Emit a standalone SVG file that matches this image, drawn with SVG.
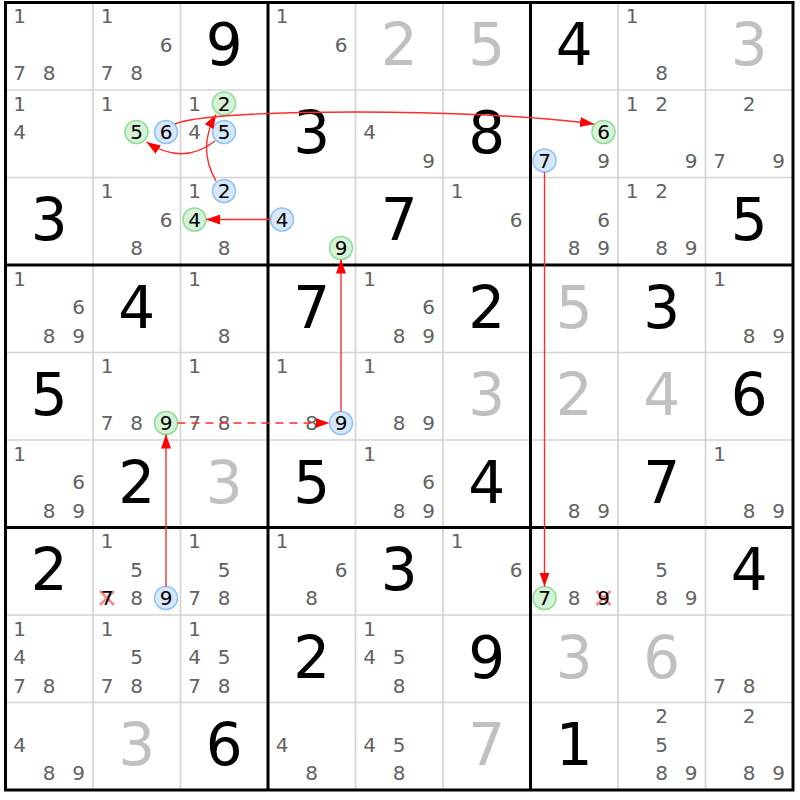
<svg xmlns="http://www.w3.org/2000/svg" width="800" height="800" viewBox="0 0 800 800">
<style>
text{font-family:"DejaVu Sans","Liberation Sans",sans-serif;text-anchor:middle}
.c{font-size:20px;fill:#626262}
.k{font-size:20px;fill:#000}
.g{font-size:58px;fill:#000}
.s{font-size:58px;fill:#c0c0c0}
.thin{stroke:#d4d4d4;stroke-width:1.7}
.thick{stroke:#000;stroke-width:3}
.cb{fill:#d6e7fa;stroke:#93c3f2;stroke-width:1.6}
.cg{fill:#d6f2d6;stroke:#8fdb99;stroke-width:1.6}
.x{stroke:#f28a8a;stroke-width:2.5}
.ar{fill:none;stroke:#ff2a2a;stroke-width:1.4;marker-end:url(#ah)}
</style>
<defs>
<marker id="ah" markerUnits="userSpaceOnUse" markerWidth="15" markerHeight="11" refX="14" refY="5" orient="auto"><path d="M0,0 L14,5 L0,10 z" fill="#f00"/></marker>
</defs>
<rect width="800" height="800" fill="#fff"/>
<g id="grid">
<path class="thin" d="M93,2.5V790M180.5,2.5V790M355.5,2.5V790M443,2.5V790M618,2.5V790M705.5,2.5V790M5.5,90H793M5.5,177.5H793M5.5,352.5H793M5.5,440H793M5.5,615H793M5.5,702.5H793"/>
<path class="thick" d="M268,2.5V790M530.5,2.5V790M5.5,265H793M5.5,527.5H793"/>
<rect x="5.5" y="2.5" width="787.5" height="787.5" fill="none" stroke="#000" stroke-width="3"/>
</g>
<!-- row 0 -->
<g id="r0c0" transform="translate(5.5,2.5)"><text class="c" x="14" y="20.5">1</text><text class="c" x="14" y="77.5">7</text><text class="c" x="43.5" y="77.5">8</text></g>
<g id="r0c1" transform="translate(93,2.5)"><text class="c" x="14" y="20.5">1</text><text class="c" x="73" y="49">6</text><text class="c" x="14" y="77.5">7</text><text class="c" x="43.5" y="77.5">8</text></g>
<g id="r0c2" transform="translate(180.5,2.5)"><text class="g" x="43.75" y="62.5">9</text></g>
<g id="r0c3" transform="translate(268,2.5)"><text class="c" x="14" y="20.5">1</text><text class="c" x="73" y="49">6</text></g>
<g id="r0c4" transform="translate(355.5,2.5)"><text class="s" x="43.75" y="62.5">2</text></g>
<g id="r0c5" transform="translate(443,2.5)"><text class="s" x="43.75" y="62.5">5</text></g>
<g id="r0c6" transform="translate(530.5,2.5)"><text class="g" x="43.75" y="62.5">4</text></g>
<g id="r0c7" transform="translate(618,2.5)"><text class="c" x="14" y="20.5">1</text><text class="c" x="43.5" y="77.5">8</text></g>
<g id="r0c8" transform="translate(705.5,2.5)"><text class="s" x="43.75" y="62.5">3</text></g>
<!-- row 1 -->
<g id="r1c0" transform="translate(5.5,90)"><text class="c" x="14" y="20.5">1</text><text class="c" x="14" y="49">4</text></g>
<g id="r1c1" transform="translate(93,90)"><text class="c" x="14" y="20.5">1</text><circle class="cg" cx="43.5" cy="42" r="11.5"/><text class="k" x="43.5" y="49">5</text><circle class="cb" cx="73" cy="42" r="11.5"/><text class="k" x="73" y="49">6</text></g>
<g id="r1c2" transform="translate(180.5,90)"><text class="c" x="14" y="20.5">1</text><circle class="cg" cx="43.5" cy="13.5" r="11.5"/><text class="k" x="43.5" y="20.5">2</text><text class="c" x="14" y="49">4</text><circle class="cb" cx="43.5" cy="42" r="11.5"/><text class="k" x="43.5" y="49">5</text></g>
<g id="r1c3" transform="translate(268,90)"><text class="g" x="43.75" y="62.5">3</text></g>
<g id="r1c4" transform="translate(355.5,90)"><text class="c" x="14" y="49">4</text><text class="c" x="73" y="77.5">9</text></g>
<g id="r1c5" transform="translate(443,90)"><text class="g" x="43.75" y="62.5">8</text></g>
<g id="r1c6" transform="translate(530.5,90)"><circle class="cg" cx="73" cy="42" r="11.5"/><text class="k" x="73" y="49">6</text><circle class="cb" cx="14" cy="70.5" r="11.5"/><text class="k" x="14" y="77.5">7</text><text class="c" x="73" y="77.5">9</text></g>
<g id="r1c7" transform="translate(618,90)"><text class="c" x="14" y="20.5">1</text><text class="c" x="43.5" y="20.5">2</text><text class="c" x="73" y="77.5">9</text></g>
<g id="r1c8" transform="translate(705.5,90)"><text class="c" x="43.5" y="20.5">2</text><text class="c" x="14" y="77.5">7</text><text class="c" x="73" y="77.5">9</text></g>
<!-- row 2 -->
<g id="r2c0" transform="translate(5.5,177.5)"><text class="g" x="43.75" y="62.5">3</text></g>
<g id="r2c1" transform="translate(93,177.5)"><text class="c" x="14" y="20.5">1</text><text class="c" x="73" y="49">6</text><text class="c" x="43.5" y="77.5">8</text></g>
<g id="r2c2" transform="translate(180.5,177.5)"><text class="c" x="14" y="20.5">1</text><circle class="cb" cx="43.5" cy="13.5" r="11.5"/><text class="k" x="43.5" y="20.5">2</text><circle class="cg" cx="14" cy="42" r="11.5"/><text class="k" x="14" y="49">4</text><text class="c" x="43.5" y="77.5">8</text></g>
<g id="r2c3" transform="translate(268,177.5)"><circle class="cb" cx="14" cy="42" r="11.5"/><text class="k" x="14" y="49">4</text><circle class="cg" cx="73" cy="70.5" r="11.5"/><text class="k" x="73" y="77.5">9</text></g>
<g id="r2c4" transform="translate(355.5,177.5)"><text class="g" x="43.75" y="62.5">7</text></g>
<g id="r2c5" transform="translate(443,177.5)"><text class="c" x="14" y="20.5">1</text><text class="c" x="73" y="49">6</text></g>
<g id="r2c6" transform="translate(530.5,177.5)"><text class="c" x="73" y="49">6</text><text class="c" x="43.5" y="77.5">8</text><text class="c" x="73" y="77.5">9</text></g>
<g id="r2c7" transform="translate(618,177.5)"><text class="c" x="14" y="20.5">1</text><text class="c" x="43.5" y="20.5">2</text><text class="c" x="43.5" y="77.5">8</text><text class="c" x="73" y="77.5">9</text></g>
<g id="r2c8" transform="translate(705.5,177.5)"><text class="g" x="43.75" y="62.5">5</text></g>
<!-- row 3 -->
<g id="r3c0" transform="translate(5.5,265)"><text class="c" x="14" y="20.5">1</text><text class="c" x="73" y="49">6</text><text class="c" x="43.5" y="77.5">8</text><text class="c" x="73" y="77.5">9</text></g>
<g id="r3c1" transform="translate(93,265)"><text class="g" x="43.75" y="62.5">4</text></g>
<g id="r3c2" transform="translate(180.5,265)"><text class="c" x="14" y="20.5">1</text><text class="c" x="43.5" y="77.5">8</text></g>
<g id="r3c3" transform="translate(268,265)"><text class="g" x="43.75" y="62.5">7</text></g>
<g id="r3c4" transform="translate(355.5,265)"><text class="c" x="14" y="20.5">1</text><text class="c" x="73" y="49">6</text><text class="c" x="43.5" y="77.5">8</text><text class="c" x="73" y="77.5">9</text></g>
<g id="r3c5" transform="translate(443,265)"><text class="g" x="43.75" y="62.5">2</text></g>
<g id="r3c6" transform="translate(530.5,265)"><text class="s" x="43.75" y="62.5">5</text></g>
<g id="r3c7" transform="translate(618,265)"><text class="g" x="43.75" y="62.5">3</text></g>
<g id="r3c8" transform="translate(705.5,265)"><text class="c" x="14" y="20.5">1</text><text class="c" x="43.5" y="77.5">8</text><text class="c" x="73" y="77.5">9</text></g>
<!-- row 4 -->
<g id="r4c0" transform="translate(5.5,352.5)"><text class="g" x="43.75" y="62.5">5</text></g>
<g id="r4c1" transform="translate(93,352.5)"><text class="c" x="14" y="20.5">1</text><text class="c" x="14" y="77.5">7</text><text class="c" x="43.5" y="77.5">8</text><circle class="cg" cx="73" cy="70.5" r="11.5"/><text class="k" x="73" y="77.5">9</text></g>
<g id="r4c2" transform="translate(180.5,352.5)"><text class="c" x="14" y="20.5">1</text><text class="c" x="14" y="77.5">7</text><text class="c" x="43.5" y="77.5">8</text></g>
<g id="r4c3" transform="translate(268,352.5)"><text class="c" x="14" y="20.5">1</text><text class="c" x="43.5" y="77.5">8</text><circle class="cb" cx="73" cy="70.5" r="11.5"/><text class="k" x="73" y="77.5">9</text></g>
<g id="r4c4" transform="translate(355.5,352.5)"><text class="c" x="14" y="20.5">1</text><text class="c" x="43.5" y="77.5">8</text><text class="c" x="73" y="77.5">9</text></g>
<g id="r4c5" transform="translate(443,352.5)"><text class="s" x="43.75" y="62.5">3</text></g>
<g id="r4c6" transform="translate(530.5,352.5)"><text class="s" x="43.75" y="62.5">2</text></g>
<g id="r4c7" transform="translate(618,352.5)"><text class="s" x="43.75" y="62.5">4</text></g>
<g id="r4c8" transform="translate(705.5,352.5)"><text class="g" x="43.75" y="62.5">6</text></g>
<!-- row 5 -->
<g id="r5c0" transform="translate(5.5,440)"><text class="c" x="14" y="20.5">1</text><text class="c" x="73" y="49">6</text><text class="c" x="43.5" y="77.5">8</text><text class="c" x="73" y="77.5">9</text></g>
<g id="r5c1" transform="translate(93,440)"><text class="g" x="43.75" y="62.5">2</text></g>
<g id="r5c2" transform="translate(180.5,440)"><text class="s" x="43.75" y="62.5">3</text></g>
<g id="r5c3" transform="translate(268,440)"><text class="g" x="43.75" y="62.5">5</text></g>
<g id="r5c4" transform="translate(355.5,440)"><text class="c" x="14" y="20.5">1</text><text class="c" x="73" y="49">6</text><text class="c" x="43.5" y="77.5">8</text><text class="c" x="73" y="77.5">9</text></g>
<g id="r5c5" transform="translate(443,440)"><text class="g" x="43.75" y="62.5">4</text></g>
<g id="r5c6" transform="translate(530.5,440)"><text class="c" x="43.5" y="77.5">8</text><text class="c" x="73" y="77.5">9</text></g>
<g id="r5c7" transform="translate(618,440)"><text class="g" x="43.75" y="62.5">7</text></g>
<g id="r5c8" transform="translate(705.5,440)"><text class="c" x="14" y="20.5">1</text><text class="c" x="43.5" y="77.5">8</text><text class="c" x="73" y="77.5">9</text></g>
<!-- row 6 -->
<g id="r6c0" transform="translate(5.5,527.5)"><text class="g" x="43.75" y="62.5">2</text></g>
<g id="r6c1" transform="translate(93,527.5)"><text class="c" x="14" y="20.5">1</text><text class="c" x="43.5" y="49">5</text><path class="x" d="M7,63.5L21,77.5M21,63.5L7,77.5"/><text class="k" x="14" y="77.5">7</text><text class="c" x="43.5" y="77.5">8</text><circle class="cb" cx="73" cy="70.5" r="11.5"/><text class="k" x="73" y="77.5">9</text></g>
<g id="r6c2" transform="translate(180.5,527.5)"><text class="c" x="14" y="20.5">1</text><text class="c" x="43.5" y="49">5</text><text class="c" x="14" y="77.5">7</text><text class="c" x="43.5" y="77.5">8</text></g>
<g id="r6c3" transform="translate(268,527.5)"><text class="c" x="14" y="20.5">1</text><text class="c" x="73" y="49">6</text><text class="c" x="43.5" y="77.5">8</text></g>
<g id="r6c4" transform="translate(355.5,527.5)"><text class="g" x="43.75" y="62.5">3</text></g>
<g id="r6c5" transform="translate(443,527.5)"><text class="c" x="14" y="20.5">1</text><text class="c" x="73" y="49">6</text></g>
<g id="r6c6" transform="translate(530.5,527.5)"><circle class="cg" cx="14" cy="70.5" r="11.5"/><text class="k" x="14" y="77.5">7</text><text class="c" x="43.5" y="77.5">8</text><path class="x" d="M66,63.5L80,77.5M80,63.5L66,77.5"/><text class="k" x="73" y="77.5">9</text></g>
<g id="r6c7" transform="translate(618,527.5)"><text class="c" x="43.5" y="49">5</text><text class="c" x="43.5" y="77.5">8</text><text class="c" x="73" y="77.5">9</text></g>
<g id="r6c8" transform="translate(705.5,527.5)"><text class="g" x="43.75" y="62.5">4</text></g>
<!-- row 7 -->
<g id="r7c0" transform="translate(5.5,615)"><text class="c" x="14" y="20.5">1</text><text class="c" x="14" y="49">4</text><text class="c" x="14" y="77.5">7</text><text class="c" x="43.5" y="77.5">8</text></g>
<g id="r7c1" transform="translate(93,615)"><text class="c" x="14" y="20.5">1</text><text class="c" x="43.5" y="49">5</text><text class="c" x="14" y="77.5">7</text><text class="c" x="43.5" y="77.5">8</text></g>
<g id="r7c2" transform="translate(180.5,615)"><text class="c" x="14" y="20.5">1</text><text class="c" x="14" y="49">4</text><text class="c" x="43.5" y="49">5</text><text class="c" x="14" y="77.5">7</text><text class="c" x="43.5" y="77.5">8</text></g>
<g id="r7c3" transform="translate(268,615)"><text class="g" x="43.75" y="62.5">2</text></g>
<g id="r7c4" transform="translate(355.5,615)"><text class="c" x="14" y="20.5">1</text><text class="c" x="14" y="49">4</text><text class="c" x="43.5" y="49">5</text><text class="c" x="43.5" y="77.5">8</text></g>
<g id="r7c5" transform="translate(443,615)"><text class="g" x="43.75" y="62.5">9</text></g>
<g id="r7c6" transform="translate(530.5,615)"><text class="s" x="43.75" y="62.5">3</text></g>
<g id="r7c7" transform="translate(618,615)"><text class="s" x="43.75" y="62.5">6</text></g>
<g id="r7c8" transform="translate(705.5,615)"><text class="c" x="14" y="77.5">7</text><text class="c" x="43.5" y="77.5">8</text></g>
<!-- row 8 -->
<g id="r8c0" transform="translate(5.5,702.5)"><text class="c" x="14" y="49">4</text><text class="c" x="43.5" y="77.5">8</text><text class="c" x="73" y="77.5">9</text></g>
<g id="r8c1" transform="translate(93,702.5)"><text class="s" x="43.75" y="62.5">3</text></g>
<g id="r8c2" transform="translate(180.5,702.5)"><text class="g" x="43.75" y="62.5">6</text></g>
<g id="r8c3" transform="translate(268,702.5)"><text class="c" x="14" y="49">4</text><text class="c" x="43.5" y="77.5">8</text></g>
<g id="r8c4" transform="translate(355.5,702.5)"><text class="c" x="14" y="49">4</text><text class="c" x="43.5" y="49">5</text><text class="c" x="43.5" y="77.5">8</text></g>
<g id="r8c5" transform="translate(443,702.5)"><text class="s" x="43.75" y="62.5">7</text></g>
<g id="r8c6" transform="translate(530.5,702.5)"><text class="g" x="43.75" y="62.5">1</text></g>
<g id="r8c7" transform="translate(618,702.5)"><text class="c" x="43.5" y="20.5">2</text><text class="c" x="43.5" y="49">5</text><text class="c" x="43.5" y="77.5">8</text><text class="c" x="73" y="77.5">9</text></g>
<g id="r8c8" transform="translate(705.5,702.5)"><text class="c" x="43.5" y="20.5">2</text><text class="c" x="43.5" y="77.5">8</text><text class="c" x="73" y="77.5">9</text></g>
<g id="connectors">
<path class="ar" d="M270.5,219.5L206,219.5"/>
<path class="ar" d="M216,181Q197,148 216,114.5"/>
<path class="ar" d="M215,141Q183,166 146.5,142"/>
<path class="ar" d="M175,124C210,108 480,108 594,124"/>
<path class="ar" d="M544.5,172L544.5,586.5"/>
<path class="ar" d="M166,586.5L166,434.5"/>
<path class="ar" d="M177.5,423L329.5,423" stroke-dasharray="8,6"/>
<path class="ar" d="M341,411.5L341,259.5"/>
</g>
</svg>
